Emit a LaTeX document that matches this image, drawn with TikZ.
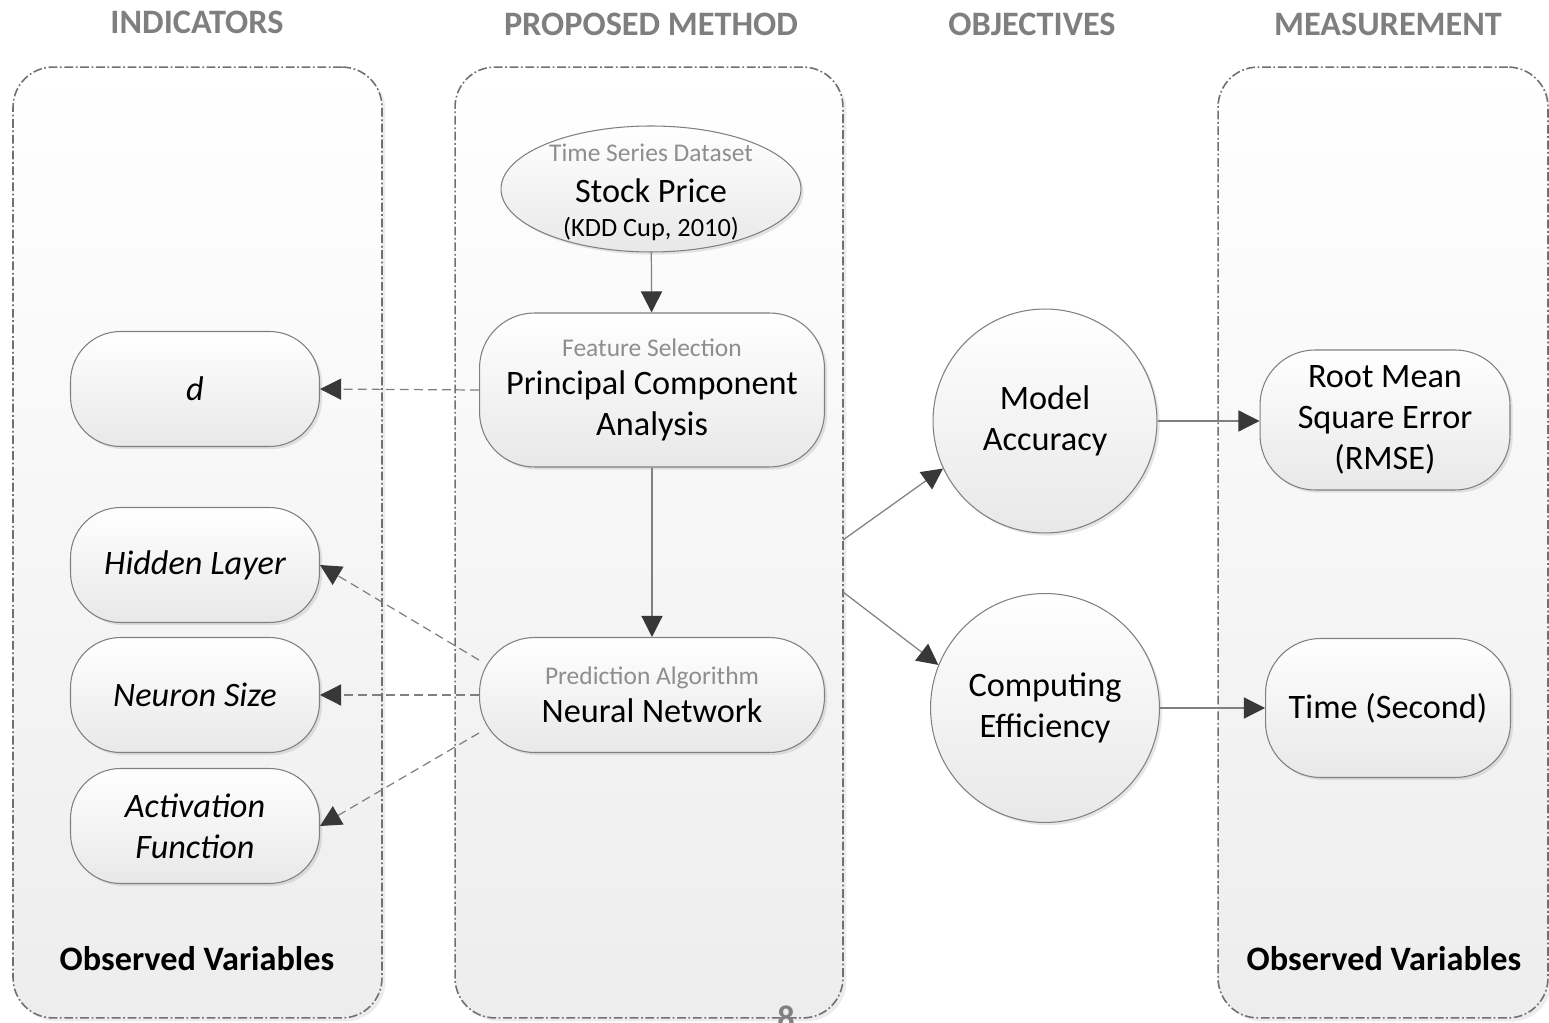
\documentclass[tikz,border=0pt]{standalone}
\usepackage{fontspec}
\setmainfont{Carlito}
\usetikzlibrary{arrows.meta,positioning,shapes.geometric,shadows}
\definecolor{lineGray}{HTML}{808080}
\definecolor{panelGray}{HTML}{707070}
\definecolor{headGray}{HTML}{7F7F7F}
\definecolor{subGray}{HTML}{8E8E8E}
\definecolor{tipDark}{HTML}{383838}
\newcommand{\sublbl}[1]{{\color{subGray}\fontsize{14.5}{17}\selectfont #1}}

\begin{document}
\begin{tikzpicture}[
  x=0.02cm, y=-0.02cm,
  font=\fontsize{19.5}{23.5}\selectfont,
  panel/.style={draw=panelGray, line width=0.9pt,
    dash pattern=on 5pt off 1.5pt on 1pt off 1.5pt,
    rounded corners=0.8cm, top color=white, bottom color=black!7,
    minimum height=19.02cm, inner sep=0pt,
    drop shadow={opacity=0.15, shadow xshift=2pt, shadow yshift=-2pt}},
  header/.style={text=headGray, font=\fontsize{19.5}{23.5}\selectfont\bfseries},
  obs/.style={font=\fontsize{19.5}{23.5}\selectfont\bfseries},
  shape3d/.style={draw=lineGray, line width=0.6pt, align=center,
    top color=white, bottom color=black!9,
    drop shadow={opacity=0.2, shadow xshift=1.5pt, shadow yshift=-1.5pt}},
  source/.style={shape3d, ellipse, inner xsep=1pt, inner ysep=-5pt,
    minimum width=6cm, minimum height=2.52cm},
  method/.style={shape3d, rounded corners=1.1cm, minimum width=6.9cm},
  indbox/.style={shape3d, rounded corners=1cm, minimum width=4.98cm,
    minimum height=2.3cm, font=\fontsize{19.5}{23.5}\selectfont\itshape},
  goal/.style={shape3d, circle, inner sep=0pt},
  metric/.style={shape3d, rounded corners=1.1cm},
  flow/.style={draw=lineGray, line width=0.7pt,
    -{Triangle[length=12pt,width=12pt,color=tipDark]}},
  hint/.style={flow, dash pattern=on 5pt off 3pt}
]
  \useasboundingbox (0,0) rectangle (1549,1023);

  % panels
  \node[panel, minimum width=7.38cm] (pind) at (197.5,542.5) {};
  \node[panel, minimum width=7.76cm] (pmeth) at (649,542.5) {};
  \node[panel, minimum width=6.6cm] (pmeas) at (1383,542.5) {};

  % headers
  \node[header] (hind) at (197,22) {INDICATORS};
  \node[header] (hmeth) at (651,24) {PROPOSED METHOD};
  \node[header] (hobj) at (1032,24) {OBJECTIVES};
  \node[header] (hmeas) at (1388,24) {MEASUREMENT};

  \node[obs] (obsind) at (197,959) {Observed Variables};
  \node[obs] (obsmeas) at (1384,959) {Observed Variables};

  % proposed method
  \node[source] (stock) at (651,189) {\rule{0pt}{14pt}\sublbl{Time Series Dataset}\\
    Stock Price\\[-4pt]
    {\fontsize{15}{18}\selectfont (KDD Cup, 2010)}};
  \node[method, minimum height=3.08cm] (pca) at (652,390) {\sublbl{Feature Selection}\\[-2pt]
    Principal Component\\ Analysis};
  \node[method, minimum height=2.3cm] (nn) at (652,695) {\sublbl{Prediction Algorithm}\\[-2pt]
    Neural Network};

  % indicators
  \node[indbox] (d) at (195,389) {d};
  \node[indbox] (hidden) at (195,565) {Hidden Layer};
  \node[indbox] (neuron) at (195,695) {Neuron Size};
  \node[indbox] (act) at (195,826) {Activation\\ Function};

  % objectives
  \node[goal, minimum size=4.48cm] (acc) at (1045,421) {Model\\ Accuracy};
  \node[goal, minimum size=4.58cm] (eff) at (1045,708) {Computing\\ Efficiency};

  % measurement
  \node[metric, minimum width=5cm, minimum height=2.8cm] (rmse) at (1385,420) {Root Mean\\ Square Error\\ (RMSE)};
  \node[metric, minimum width=4.9cm, minimum height=2.78cm] (time) at (1388,708) {Time (Second)};

  \node[text=headGray, font=\fontsize{19.5}{23.5}\selectfont\bfseries] (pgno) at (786,1018) {8};

  % connectors
  \draw[flow] (stock) -- (pca);
  \draw[flow] (pca) -- (nn);
  \draw[hint] (pca.west) -- (d.east);
  \draw[hint] ([yshift=0.7cm]nn.west) -- (hidden.east);
  \draw[hint] (nn.west) -- (neuron.east);
  \draw[hint] ([yshift=-0.76cm]nn.west) -- (act.east);

  \coordinate (accfrom) at (843,540);
  \coordinate (efffrom) at (843,592);
  \draw[flow] (accfrom) -- (acc.205);
  \draw[flow] (efffrom) -- (eff.158);
  \draw[flow] (acc.east) -- (acc.east -| rmse.west);
  \draw[flow] (eff.east) -- (time.west);
\end{tikzpicture}
\end{document}
